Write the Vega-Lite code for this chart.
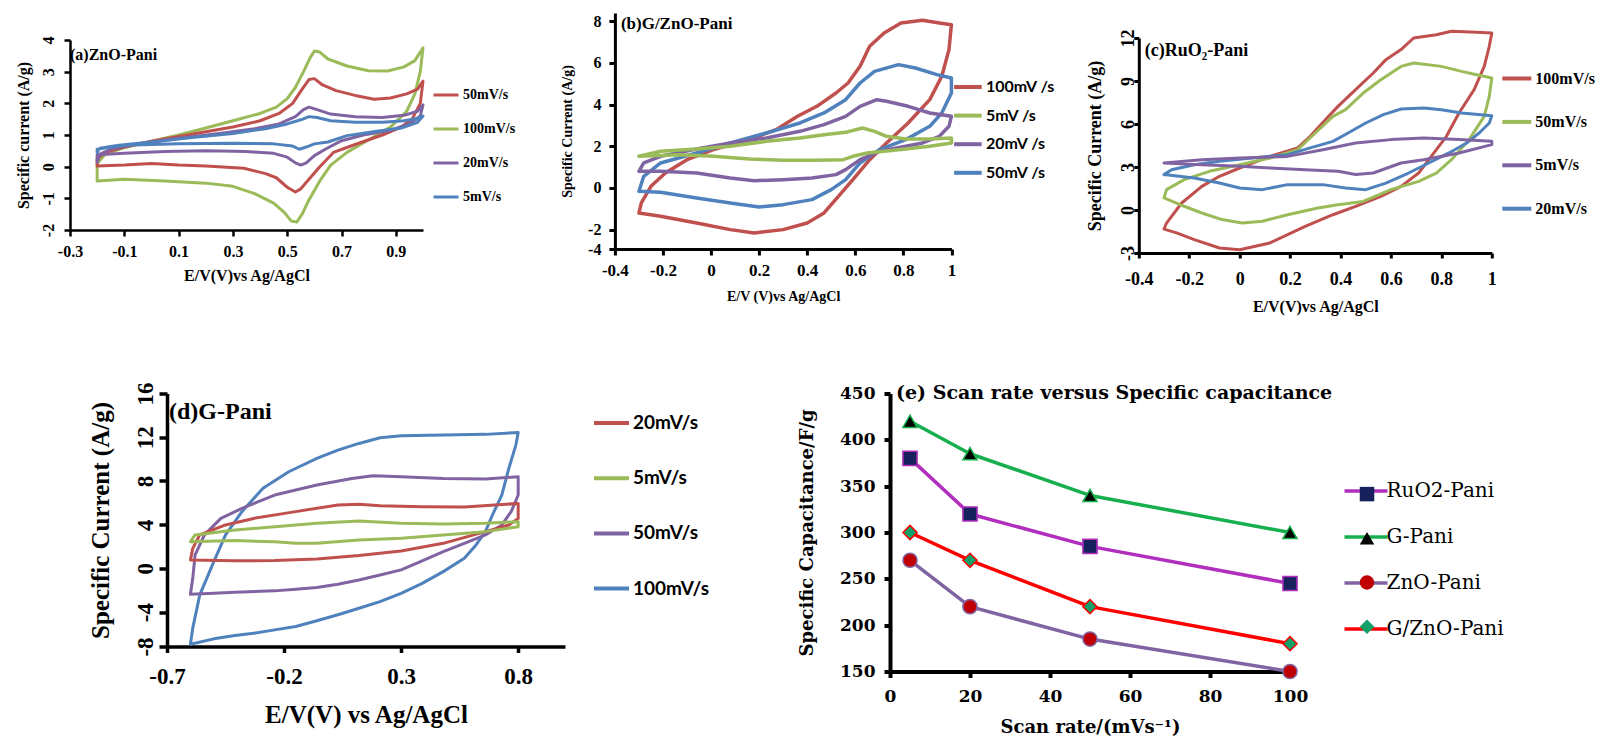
{
"$schema": "https://vega.github.io/schema/vega-lite/v6.json",
"background": "white",
"padding": {"left": 15, "top": 13, "right": 0, "bottom": 0},
"config": {
 "view": {"stroke": null},
 "axis": {"grid": false, "domainColor": "#000", "tickColor": "#000", "labelColor": "#000", "titleColor": "#000", "labelFontWeight": "bold", "titleFontWeight": "bold", "labelFont": "Liberation Serif", "titleFont": "Liberation Serif", "labelFlush": false, "labelOverlap": false},
 "legend": {"labelColor": "#000"},
 "line": {"strokeJoin": "round", "strokeCap": "round"}
},
"datasets": {
"a": [
{"s":"100mV/s","i":0,"x":-0.2,"y":-0.45},{"s":"100mV/s","i":1,"x":-0.2,"y":0.1},{"s":"100mV/s","i":2,"x":-0.17,"y":0.4},{"s":"100mV/s","i":3,"x":-0.1,"y":0.6},{"s":"100mV/s","i":4,"x":0,"y":0.8},{"s":"100mV/s","i":5,"x":0.1,"y":1},{"s":"100mV/s","i":6,"x":0.2,"y":1.22},{"s":"100mV/s","i":7,"x":0.3,"y":1.45},{"s":"100mV/s","i":8,"x":0.4,"y":1.68},{"s":"100mV/s","i":9,"x":0.46,"y":1.88},{"s":"100mV/s","i":10,"x":0.5,"y":2.15},{"s":"100mV/s","i":11,"x":0.53,"y":2.5},{"s":"100mV/s","i":12,"x":0.56,"y":3},{"s":"100mV/s","i":13,"x":0.585,"y":3.45},{"s":"100mV/s","i":14,"x":0.6,"y":3.65},{"s":"100mV/s","i":15,"x":0.62,"y":3.62},{"s":"100mV/s","i":16,"x":0.65,"y":3.4},{"s":"100mV/s","i":17,"x":0.72,"y":3.18},{"s":"100mV/s","i":18,"x":0.8,"y":3.03},{"s":"100mV/s","i":19,"x":0.87,"y":3.02},{"s":"100mV/s","i":20,"x":0.93,"y":3.15},{"s":"100mV/s","i":21,"x":0.97,"y":3.35},{"s":"100mV/s","i":22,"x":1,"y":3.75},{"s":"100mV/s","i":23,"x":0.99,"y":3},{"s":"100mV/s","i":24,"x":0.97,"y":2.3},{"s":"100mV/s","i":25,"x":0.94,"y":1.75},{"s":"100mV/s","i":26,"x":0.88,"y":1.25},{"s":"100mV/s","i":27,"x":0.8,"y":0.85},{"s":"100mV/s","i":28,"x":0.72,"y":0.45},{"s":"100mV/s","i":29,"x":0.66,"y":0.05},{"s":"100mV/s","i":30,"x":0.62,"y":-0.45},{"s":"100mV/s","i":31,"x":0.58,"y":-1.05},{"s":"100mV/s","i":32,"x":0.555,"y":-1.5},{"s":"100mV/s","i":33,"x":0.535,"y":-1.75},{"s":"100mV/s","i":34,"x":0.515,"y":-1.72},{"s":"100mV/s","i":35,"x":0.49,"y":-1.45},{"s":"100mV/s","i":36,"x":0.45,"y":-1.15},{"s":"100mV/s","i":37,"x":0.38,"y":-0.85},{"s":"100mV/s","i":38,"x":0.3,"y":-0.62},{"s":"100mV/s","i":39,"x":0.2,"y":-0.52},{"s":"100mV/s","i":40,"x":0.05,"y":-0.45},{"s":"100mV/s","i":41,"x":-0.1,"y":-0.4},{"s":"100mV/s","i":42,"x":-0.2,"y":-0.45},
{"s":"50mV/s","i":0,"x":-0.2,"y":0.02},{"s":"50mV/s","i":1,"x":-0.2,"y":0.25},{"s":"50mV/s","i":2,"x":-0.17,"y":0.45},{"s":"50mV/s","i":3,"x":-0.1,"y":0.62},{"s":"50mV/s","i":4,"x":0,"y":0.8},{"s":"50mV/s","i":5,"x":0.1,"y":0.95},{"s":"50mV/s","i":6,"x":0.2,"y":1.1},{"s":"50mV/s","i":7,"x":0.3,"y":1.25},{"s":"50mV/s","i":8,"x":0.4,"y":1.45},{"s":"50mV/s","i":9,"x":0.47,"y":1.68},{"s":"50mV/s","i":10,"x":0.52,"y":2},{"s":"50mV/s","i":11,"x":0.555,"y":2.45},{"s":"50mV/s","i":12,"x":0.58,"y":2.75},{"s":"50mV/s","i":13,"x":0.6,"y":2.78},{"s":"50mV/s","i":14,"x":0.63,"y":2.58},{"s":"50mV/s","i":15,"x":0.68,"y":2.4},{"s":"50mV/s","i":16,"x":0.75,"y":2.25},{"s":"50mV/s","i":17,"x":0.82,"y":2.13},{"s":"50mV/s","i":18,"x":0.88,"y":2.17},{"s":"50mV/s","i":19,"x":0.94,"y":2.3},{"s":"50mV/s","i":20,"x":0.98,"y":2.45},{"s":"50mV/s","i":21,"x":1,"y":2.7},{"s":"50mV/s","i":22,"x":0.99,"y":2},{"s":"50mV/s","i":23,"x":0.96,"y":1.5},{"s":"50mV/s","i":24,"x":0.92,"y":1.25},{"s":"50mV/s","i":25,"x":0.85,"y":1},{"s":"50mV/s","i":26,"x":0.75,"y":0.7},{"s":"50mV/s","i":27,"x":0.67,"y":0.45},{"s":"50mV/s","i":28,"x":0.62,"y":0},{"s":"50mV/s","i":29,"x":0.58,"y":-0.4},{"s":"50mV/s","i":30,"x":0.55,"y":-0.7},{"s":"50mV/s","i":31,"x":0.53,"y":-0.8},{"s":"50mV/s","i":32,"x":0.5,"y":-0.65},{"s":"50mV/s","i":33,"x":0.46,"y":-0.35},{"s":"50mV/s","i":34,"x":0.42,"y":-0.22},{"s":"50mV/s","i":35,"x":0.34,"y":-0.05},{"s":"50mV/s","i":36,"x":0.2,"y":0.02},{"s":"50mV/s","i":37,"x":0.1,"y":0.05},{"s":"50mV/s","i":38,"x":0,"y":0.1},{"s":"50mV/s","i":39,"x":-0.1,"y":0.05},{"s":"50mV/s","i":40,"x":-0.2,"y":0.02},
{"s":"20mV/s","i":0,"x":-0.2,"y":0.15},{"s":"20mV/s","i":1,"x":-0.19,"y":0.4},{"s":"20mV/s","i":2,"x":-0.15,"y":0.55},{"s":"20mV/s","i":3,"x":-0.05,"y":0.72},{"s":"20mV/s","i":4,"x":0.1,"y":0.9},{"s":"20mV/s","i":5,"x":0.25,"y":1.05},{"s":"20mV/s","i":6,"x":0.38,"y":1.2},{"s":"20mV/s","i":7,"x":0.47,"y":1.35},{"s":"20mV/s","i":8,"x":0.53,"y":1.58},{"s":"20mV/s","i":9,"x":0.56,"y":1.8},{"s":"20mV/s","i":10,"x":0.58,"y":1.88},{"s":"20mV/s","i":11,"x":0.61,"y":1.8},{"s":"20mV/s","i":12,"x":0.66,"y":1.66},{"s":"20mV/s","i":13,"x":0.75,"y":1.58},{"s":"20mV/s","i":14,"x":0.85,"y":1.55},{"s":"20mV/s","i":15,"x":0.93,"y":1.62},{"s":"20mV/s","i":16,"x":0.98,"y":1.75},{"s":"20mV/s","i":17,"x":1,"y":1.95},{"s":"20mV/s","i":18,"x":0.99,"y":1.6},{"s":"20mV/s","i":19,"x":0.95,"y":1.35},{"s":"20mV/s","i":20,"x":0.88,"y":1.15},{"s":"20mV/s","i":21,"x":0.78,"y":1},{"s":"20mV/s","i":22,"x":0.7,"y":0.82},{"s":"20mV/s","i":23,"x":0.64,"y":0.55},{"s":"20mV/s","i":24,"x":0.6,"y":0.35},{"s":"20mV/s","i":25,"x":0.57,"y":0.12},{"s":"20mV/s","i":26,"x":0.55,"y":0.05},{"s":"20mV/s","i":27,"x":0.53,"y":0.12},{"s":"20mV/s","i":28,"x":0.5,"y":0.3},{"s":"20mV/s","i":29,"x":0.45,"y":0.42},{"s":"20mV/s","i":30,"x":0.35,"y":0.48},{"s":"20mV/s","i":31,"x":0.2,"y":0.5},{"s":"20mV/s","i":32,"x":0.05,"y":0.48},{"s":"20mV/s","i":33,"x":-0.1,"y":0.42},{"s":"20mV/s","i":34,"x":-0.2,"y":0.38},{"s":"20mV/s","i":35,"x":-0.2,"y":0.15},
{"s":"5mV/s","i":0,"x":-0.2,"y":0.45},{"s":"5mV/s","i":1,"x":-0.19,"y":0.58},{"s":"5mV/s","i":2,"x":-0.12,"y":0.68},{"s":"5mV/s","i":3,"x":0,"y":0.78},{"s":"5mV/s","i":4,"x":0.15,"y":0.92},{"s":"5mV/s","i":5,"x":0.3,"y":1.05},{"s":"5mV/s","i":6,"x":0.42,"y":1.2},{"s":"5mV/s","i":7,"x":0.5,"y":1.35},{"s":"5mV/s","i":8,"x":0.55,"y":1.48},{"s":"5mV/s","i":9,"x":0.58,"y":1.58},{"s":"5mV/s","i":10,"x":0.61,"y":1.55},{"s":"5mV/s","i":11,"x":0.66,"y":1.45},{"s":"5mV/s","i":12,"x":0.75,"y":1.4},{"s":"5mV/s","i":13,"x":0.85,"y":1.4},{"s":"5mV/s","i":14,"x":0.93,"y":1.45},{"s":"5mV/s","i":15,"x":0.98,"y":1.52},{"s":"5mV/s","i":16,"x":1,"y":1.6},{"s":"5mV/s","i":17,"x":0.98,"y":1.4},{"s":"5mV/s","i":18,"x":0.92,"y":1.22},{"s":"5mV/s","i":19,"x":0.83,"y":1.12},{"s":"5mV/s","i":20,"x":0.72,"y":0.98},{"s":"5mV/s","i":21,"x":0.65,"y":0.78},{"s":"5mV/s","i":22,"x":0.6,"y":0.72},{"s":"5mV/s","i":23,"x":0.57,"y":0.62},{"s":"5mV/s","i":24,"x":0.545,"y":0.55},{"s":"5mV/s","i":25,"x":0.52,"y":0.65},{"s":"5mV/s","i":26,"x":0.45,"y":0.72},{"s":"5mV/s","i":27,"x":0.3,"y":0.74},{"s":"5mV/s","i":28,"x":0.1,"y":0.72},{"s":"5mV/s","i":29,"x":-0.1,"y":0.68},{"s":"5mV/s","i":30,"x":-0.2,"y":0.55},{"s":"5mV/s","i":31,"x":-0.2,"y":0.45}
],
"b": [
{"s":"100mV /s","i":0,"x":-0.3,"y":-1.2},{"s":"100mV /s","i":1,"x":-0.29,"y":-0.72},{"s":"100mV /s","i":2,"x":-0.25,"y":0.08},{"s":"100mV /s","i":3,"x":-0.19,"y":0.72},{"s":"100mV /s","i":4,"x":-0.1,"y":1.36},{"s":"100mV /s","i":5,"x":0.01,"y":1.84},{"s":"100mV /s","i":6,"x":0.16,"y":2.32},{"s":"100mV /s","i":7,"x":0.27,"y":2.8},{"s":"100mV /s","i":8,"x":0.36,"y":3.44},{"s":"100mV /s","i":9,"x":0.44,"y":3.92},{"s":"100mV /s","i":10,"x":0.52,"y":4.56},{"s":"100mV /s","i":11,"x":0.57,"y":5.04},{"s":"100mV /s","i":12,"x":0.62,"y":5.84},{"s":"100mV /s","i":13,"x":0.66,"y":6.8},{"s":"100mV /s","i":14,"x":0.72,"y":7.44},{"s":"100mV /s","i":15,"x":0.79,"y":7.92},{"s":"100mV /s","i":16,"x":0.88,"y":8.05},{"s":"100mV /s","i":17,"x":0.95,"y":7.92},{"s":"100mV /s","i":18,"x":1,"y":7.84},{"s":"100mV /s","i":19,"x":0.99,"y":6.64},{"s":"100mV /s","i":20,"x":0.96,"y":5.36},{"s":"100mV /s","i":21,"x":0.91,"y":4.24},{"s":"100mV /s","i":22,"x":0.82,"y":3.12},{"s":"100mV /s","i":23,"x":0.73,"y":2.16},{"s":"100mV /s","i":24,"x":0.66,"y":1.36},{"s":"100mV /s","i":25,"x":0.59,"y":0.4},{"s":"100mV /s","i":26,"x":0.53,"y":-0.4},{"s":"100mV /s","i":27,"x":0.47,"y":-1.2},{"s":"100mV /s","i":28,"x":0.4,"y":-1.68},{"s":"100mV /s","i":29,"x":0.3,"y":-2},{"s":"100mV /s","i":30,"x":0.18,"y":-2.16},{"s":"100mV /s","i":31,"x":0.08,"y":-2},{"s":"100mV /s","i":32,"x":-0.06,"y":-1.68},{"s":"100mV /s","i":33,"x":-0.21,"y":-1.36},{"s":"100mV /s","i":34,"x":-0.3,"y":-1.2},
{"s":"50mV /s","i":0,"x":-0.3,"y":-0.16},{"s":"50mV /s","i":1,"x":-0.28,"y":0.56},{"s":"50mV /s","i":2,"x":-0.21,"y":1.2},{"s":"50mV /s","i":3,"x":-0.06,"y":1.68},{"s":"50mV /s","i":4,"x":0.08,"y":2.16},{"s":"50mV /s","i":5,"x":0.23,"y":2.64},{"s":"50mV /s","i":6,"x":0.37,"y":3.12},{"s":"50mV /s","i":7,"x":0.47,"y":3.6},{"s":"50mV /s","i":8,"x":0.56,"y":4.24},{"s":"50mV /s","i":9,"x":0.62,"y":5.04},{"s":"50mV /s","i":10,"x":0.68,"y":5.6},{"s":"50mV /s","i":11,"x":0.78,"y":5.92},{"s":"50mV /s","i":12,"x":0.85,"y":5.76},{"s":"50mV /s","i":13,"x":0.94,"y":5.44},{"s":"50mV /s","i":14,"x":1,"y":5.28},{"s":"50mV /s","i":15,"x":1,"y":4.56},{"s":"50mV /s","i":16,"x":0.96,"y":3.6},{"s":"50mV /s","i":17,"x":0.91,"y":2.96},{"s":"50mV /s","i":18,"x":0.81,"y":2.32},{"s":"50mV /s","i":19,"x":0.7,"y":1.84},{"s":"50mV /s","i":20,"x":0.62,"y":1.2},{"s":"50mV /s","i":21,"x":0.56,"y":0.4},{"s":"50mV /s","i":22,"x":0.5,"y":-0.08},{"s":"50mV /s","i":23,"x":0.42,"y":-0.56},{"s":"50mV /s","i":24,"x":0.3,"y":-0.8},{"s":"50mV /s","i":25,"x":0.2,"y":-0.91},{"s":"50mV /s","i":26,"x":0.08,"y":-0.72},{"s":"50mV /s","i":27,"x":-0.06,"y":-0.48},{"s":"50mV /s","i":28,"x":-0.21,"y":-0.21},{"s":"50mV /s","i":29,"x":-0.3,"y":-0.16},
{"s":"20mV /s","i":0,"x":-0.3,"y":0.8},{"s":"20mV /s","i":1,"x":-0.28,"y":1.2},{"s":"20mV /s","i":2,"x":-0.21,"y":1.52},{"s":"20mV /s","i":3,"x":-0.06,"y":1.87},{"s":"20mV /s","i":4,"x":0.08,"y":2.16},{"s":"20mV /s","i":5,"x":0.23,"y":2.4},{"s":"20mV /s","i":6,"x":0.37,"y":2.72},{"s":"20mV /s","i":7,"x":0.47,"y":3.04},{"s":"20mV /s","i":8,"x":0.56,"y":3.44},{"s":"20mV /s","i":9,"x":0.62,"y":3.92},{"s":"20mV /s","i":10,"x":0.69,"y":4.24},{"s":"20mV /s","i":11,"x":0.73,"y":4.16},{"s":"20mV /s","i":12,"x":0.82,"y":3.92},{"s":"20mV /s","i":13,"x":0.91,"y":3.6},{"s":"20mV /s","i":14,"x":1,"y":3.44},{"s":"20mV /s","i":15,"x":0.99,"y":2.96},{"s":"20mV /s","i":16,"x":0.95,"y":2.48},{"s":"20mV /s","i":17,"x":0.88,"y":2.16},{"s":"20mV /s","i":18,"x":0.81,"y":2},{"s":"20mV /s","i":19,"x":0.7,"y":1.76},{"s":"20mV /s","i":20,"x":0.62,"y":1.36},{"s":"20mV /s","i":21,"x":0.56,"y":0.88},{"s":"20mV /s","i":22,"x":0.52,"y":0.64},{"s":"20mV /s","i":23,"x":0.42,"y":0.48},{"s":"20mV /s","i":24,"x":0.3,"y":0.4},{"s":"20mV /s","i":25,"x":0.18,"y":0.35},{"s":"20mV /s","i":26,"x":0.08,"y":0.48},{"s":"20mV /s","i":27,"x":-0.06,"y":0.72},{"s":"20mV /s","i":28,"x":-0.21,"y":0.8},{"s":"20mV /s","i":29,"x":-0.3,"y":0.8},
{"s":"5mV /s","i":0,"x":-0.3,"y":1.52},{"s":"5mV /s","i":1,"x":-0.21,"y":1.76},{"s":"5mV /s","i":2,"x":-0.06,"y":1.87},{"s":"5mV /s","i":3,"x":0.08,"y":2},{"s":"5mV /s","i":4,"x":0.23,"y":2.24},{"s":"5mV /s","i":5,"x":0.37,"y":2.4},{"s":"5mV /s","i":6,"x":0.47,"y":2.56},{"s":"5mV /s","i":7,"x":0.56,"y":2.67},{"s":"5mV /s","i":8,"x":0.63,"y":2.88},{"s":"5mV /s","i":9,"x":0.68,"y":2.72},{"s":"5mV /s","i":10,"x":0.73,"y":2.48},{"s":"5mV /s","i":11,"x":0.81,"y":2.35},{"s":"5mV /s","i":12,"x":0.91,"y":2.35},{"s":"5mV /s","i":13,"x":1,"y":2.4},{"s":"5mV /s","i":14,"x":1,"y":2.16},{"s":"5mV /s","i":15,"x":0.91,"y":2},{"s":"5mV /s","i":16,"x":0.81,"y":1.87},{"s":"5mV /s","i":17,"x":0.72,"y":1.76},{"s":"5mV /s","i":18,"x":0.65,"y":1.68},{"s":"5mV /s","i":19,"x":0.59,"y":1.52},{"s":"5mV /s","i":20,"x":0.55,"y":1.36},{"s":"5mV /s","i":21,"x":0.44,"y":1.33},{"s":"5mV /s","i":22,"x":0.3,"y":1.33},{"s":"5mV /s","i":23,"x":0.16,"y":1.39},{"s":"5mV /s","i":24,"x":0.01,"y":1.52},{"s":"5mV /s","i":25,"x":-0.13,"y":1.6},{"s":"5mV /s","i":26,"x":-0.3,"y":1.52}
],
"c": [
{"s":"100mV/s","i":0,"x":-0.3,"y":-1.33},{"s":"100mV/s","i":1,"x":-0.29,"y":-0.91},{"s":"100mV/s","i":2,"x":-0.23,"y":0.49},{"s":"100mV/s","i":3,"x":-0.15,"y":1.65},{"s":"100mV/s","i":4,"x":-0.08,"y":2.35},{"s":"100mV/s","i":5,"x":0,"y":2.93},{"s":"100mV/s","i":6,"x":0.12,"y":3.74},{"s":"100mV/s","i":7,"x":0.23,"y":4.33},{"s":"100mV/s","i":8,"x":0.28,"y":5.14},{"s":"100mV/s","i":9,"x":0.34,"y":6.3},{"s":"100mV/s","i":10,"x":0.39,"y":7.23},{"s":"100mV/s","i":11,"x":0.46,"y":8.4},{"s":"100mV/s","i":12,"x":0.53,"y":9.56},{"s":"100mV/s","i":13,"x":0.58,"y":10.49},{"s":"100mV/s","i":14,"x":0.64,"y":11.19},{"s":"100mV/s","i":15,"x":0.69,"y":12},{"s":"100mV/s","i":16,"x":0.78,"y":12.23},{"s":"100mV/s","i":17,"x":0.84,"y":12.47},{"s":"100mV/s","i":18,"x":0.94,"y":12.4},{"s":"100mV/s","i":19,"x":1,"y":12.35},{"s":"100mV/s","i":20,"x":0.99,"y":11.42},{"s":"100mV/s","i":21,"x":0.97,"y":10.02},{"s":"100mV/s","i":22,"x":0.93,"y":8.4},{"s":"100mV/s","i":23,"x":0.87,"y":6.77},{"s":"100mV/s","i":24,"x":0.82,"y":5.14},{"s":"100mV/s","i":25,"x":0.76,"y":3.74},{"s":"100mV/s","i":26,"x":0.71,"y":2.58},{"s":"100mV/s","i":27,"x":0.64,"y":1.65},{"s":"100mV/s","i":28,"x":0.56,"y":0.95},{"s":"100mV/s","i":29,"x":0.46,"y":0.26},{"s":"100mV/s","i":30,"x":0.37,"y":-0.33},{"s":"100mV/s","i":31,"x":0.26,"y":-1.14},{"s":"100mV/s","i":32,"x":0.12,"y":-2.3},{"s":"100mV/s","i":33,"x":0,"y":-2.77},{"s":"100mV/s","i":34,"x":-0.08,"y":-2.65},{"s":"100mV/s","i":35,"x":-0.18,"y":-2.07},{"s":"100mV/s","i":36,"x":-0.25,"y":-1.6},{"s":"100mV/s","i":37,"x":-0.3,"y":-1.33},
{"s":"50mV/s","i":0,"x":-0.3,"y":0.84},{"s":"50mV/s","i":1,"x":-0.29,"y":1.42},{"s":"50mV/s","i":2,"x":-0.22,"y":2.12},{"s":"50mV/s","i":3,"x":-0.12,"y":2.7},{"s":"50mV/s","i":4,"x":0,"y":3.16},{"s":"50mV/s","i":5,"x":0.12,"y":3.63},{"s":"50mV/s","i":6,"x":0.23,"y":4.21},{"s":"50mV/s","i":7,"x":0.3,"y":5.37},{"s":"50mV/s","i":8,"x":0.37,"y":6.53},{"s":"50mV/s","i":9,"x":0.42,"y":7},{"s":"50mV/s","i":10,"x":0.49,"y":8.16},{"s":"50mV/s","i":11,"x":0.56,"y":9.09},{"s":"50mV/s","i":12,"x":0.64,"y":10.02},{"s":"50mV/s","i":13,"x":0.69,"y":10.26},{"s":"50mV/s","i":14,"x":0.8,"y":10.02},{"s":"50mV/s","i":15,"x":0.88,"y":9.67},{"s":"50mV/s","i":16,"x":0.94,"y":9.44},{"s":"50mV/s","i":17,"x":1,"y":9.21},{"s":"50mV/s","i":18,"x":0.99,"y":7.93},{"s":"50mV/s","i":19,"x":0.97,"y":6.53},{"s":"50mV/s","i":20,"x":0.91,"y":4.91},{"s":"50mV/s","i":21,"x":0.84,"y":3.51},{"s":"50mV/s","i":22,"x":0.78,"y":2.58},{"s":"50mV/s","i":23,"x":0.71,"y":2},{"s":"50mV/s","i":24,"x":0.6,"y":1.42},{"s":"50mV/s","i":25,"x":0.49,"y":0.6},{"s":"50mV/s","i":26,"x":0.39,"y":0.37},{"s":"50mV/s","i":27,"x":0.31,"y":0.14},{"s":"50mV/s","i":28,"x":0.19,"y":-0.33},{"s":"50mV/s","i":29,"x":0.09,"y":-0.79},{"s":"50mV/s","i":30,"x":0.01,"y":-0.91},{"s":"50mV/s","i":31,"x":-0.07,"y":-0.67},{"s":"50mV/s","i":32,"x":-0.15,"y":-0.21},{"s":"50mV/s","i":33,"x":-0.22,"y":0.26},{"s":"50mV/s","i":34,"x":-0.3,"y":0.84},
{"s":"20mV/s","i":0,"x":-0.3,"y":2.47},{"s":"20mV/s","i":1,"x":-0.27,"y":2.81},{"s":"20mV/s","i":2,"x":-0.18,"y":3.16},{"s":"20mV/s","i":3,"x":-0.08,"y":3.4},{"s":"20mV/s","i":4,"x":0.05,"y":3.63},{"s":"20mV/s","i":5,"x":0.19,"y":3.86},{"s":"20mV/s","i":6,"x":0.28,"y":4.33},{"s":"20mV/s","i":7,"x":0.37,"y":4.79},{"s":"20mV/s","i":8,"x":0.43,"y":5.37},{"s":"20mV/s","i":9,"x":0.5,"y":6.07},{"s":"20mV/s","i":10,"x":0.57,"y":6.65},{"s":"20mV/s","i":11,"x":0.64,"y":7.05},{"s":"20mV/s","i":12,"x":0.73,"y":7.12},{"s":"20mV/s","i":13,"x":0.8,"y":7},{"s":"20mV/s","i":14,"x":0.88,"y":6.77},{"s":"20mV/s","i":15,"x":1,"y":6.58},{"s":"20mV/s","i":16,"x":0.99,"y":6.07},{"s":"20mV/s","i":17,"x":0.95,"y":5.37},{"s":"20mV/s","i":18,"x":0.9,"y":4.67},{"s":"20mV/s","i":19,"x":0.83,"y":3.98},{"s":"20mV/s","i":20,"x":0.75,"y":3.28},{"s":"20mV/s","i":21,"x":0.67,"y":2.58},{"s":"20mV/s","i":22,"x":0.58,"y":1.88},{"s":"20mV/s","i":23,"x":0.5,"y":1.42},{"s":"20mV/s","i":24,"x":0.42,"y":1.53},{"s":"20mV/s","i":25,"x":0.33,"y":1.77},{"s":"20mV/s","i":26,"x":0.19,"y":1.77},{"s":"20mV/s","i":27,"x":0.09,"y":1.42},{"s":"20mV/s","i":28,"x":0,"y":1.53},{"s":"20mV/s","i":29,"x":-0.08,"y":1.88},{"s":"20mV/s","i":30,"x":-0.18,"y":2.23},{"s":"20mV/s","i":31,"x":-0.3,"y":2.47},
{"s":"5mV/s","i":0,"x":-0.3,"y":3.28},{"s":"5mV/s","i":1,"x":-0.15,"y":3.51},{"s":"5mV/s","i":2,"x":0,"y":3.63},{"s":"5mV/s","i":3,"x":0.19,"y":3.74},{"s":"5mV/s","i":4,"x":0.33,"y":4.21},{"s":"5mV/s","i":5,"x":0.46,"y":4.67},{"s":"5mV/s","i":6,"x":0.6,"y":4.91},{"s":"5mV/s","i":7,"x":0.73,"y":5.02},{"s":"5mV/s","i":8,"x":0.87,"y":4.91},{"s":"5mV/s","i":9,"x":1,"y":4.79},{"s":"5mV/s","i":10,"x":1,"y":4.56},{"s":"5mV/s","i":11,"x":0.87,"y":3.98},{"s":"5mV/s","i":12,"x":0.73,"y":3.51},{"s":"5mV/s","i":13,"x":0.64,"y":3.28},{"s":"5mV/s","i":14,"x":0.53,"y":2.58},{"s":"5mV/s","i":15,"x":0.46,"y":2.47},{"s":"5mV/s","i":16,"x":0.39,"y":2.7},{"s":"5mV/s","i":17,"x":0.26,"y":2.81},{"s":"5mV/s","i":18,"x":0.12,"y":2.93},{"s":"5mV/s","i":19,"x":0,"y":3.05},{"s":"5mV/s","i":20,"x":-0.15,"y":3.16},{"s":"5mV/s","i":21,"x":-0.3,"y":3.28}
],
"d": [
{"s":"100mV/s","i":0,"x":-0.6,"y":-6.94},{"s":"100mV/s","i":1,"x":-0.59,"y":-5.47},{"s":"100mV/s","i":2,"x":-0.56,"y":-2.43},{"s":"100mV/s","i":3,"x":-0.5,"y":0.62},{"s":"100mV/s","i":4,"x":-0.45,"y":3.06},{"s":"100mV/s","i":5,"x":-0.38,"y":5.19},{"s":"100mV/s","i":6,"x":-0.29,"y":7.32},{"s":"100mV/s","i":7,"x":-0.18,"y":8.84},{"s":"100mV/s","i":8,"x":-0.06,"y":10.06},{"s":"100mV/s","i":9,"x":0.03,"y":10.82},{"s":"100mV/s","i":10,"x":0.12,"y":11.43},{"s":"100mV/s","i":11,"x":0.21,"y":11.95},{"s":"100mV/s","i":12,"x":0.3,"y":12.13},{"s":"100mV/s","i":13,"x":0.48,"y":12.2},{"s":"100mV/s","i":14,"x":0.66,"y":12.26},{"s":"100mV/s","i":15,"x":0.8,"y":12.43},{"s":"100mV/s","i":16,"x":0.79,"y":11.28},{"s":"100mV/s","i":17,"x":0.76,"y":9.14},{"s":"100mV/s","i":18,"x":0.73,"y":6.71},{"s":"100mV/s","i":19,"x":0.69,"y":4.88},{"s":"100mV/s","i":20,"x":0.66,"y":3.36},{"s":"100mV/s","i":21,"x":0.62,"y":2.14},{"s":"100mV/s","i":22,"x":0.57,"y":0.92},{"s":"100mV/s","i":23,"x":0.48,"y":-0.3},{"s":"100mV/s","i":24,"x":0.39,"y":-1.37},{"s":"100mV/s","i":25,"x":0.3,"y":-2.28},{"s":"100mV/s","i":26,"x":0.21,"y":-3.04},{"s":"100mV/s","i":27,"x":0.12,"y":-3.65},{"s":"100mV/s","i":28,"x":0.03,"y":-4.25},{"s":"100mV/s","i":29,"x":-0.06,"y":-4.8},{"s":"100mV/s","i":30,"x":-0.15,"y":-5.32},{"s":"100mV/s","i":31,"x":-0.24,"y":-5.63},{"s":"100mV/s","i":32,"x":-0.33,"y":-5.94},{"s":"100mV/s","i":33,"x":-0.41,"y":-6.15},{"s":"100mV/s","i":34,"x":-0.5,"y":-6.45},{"s":"100mV/s","i":35,"x":-0.6,"y":-6.94},
{"s":"50mV/s","i":0,"x":-0.6,"y":-2.37},{"s":"50mV/s","i":1,"x":-0.59,"y":-0.91},{"s":"50mV/s","i":2,"x":-0.58,"y":1.23},{"s":"50mV/s","i":3,"x":-0.54,"y":3.06},{"s":"50mV/s","i":4,"x":-0.47,"y":4.57},{"s":"50mV/s","i":5,"x":-0.38,"y":5.49},{"s":"50mV/s","i":6,"x":-0.24,"y":6.71},{"s":"50mV/s","i":7,"x":-0.06,"y":7.63},{"s":"50mV/s","i":8,"x":0.09,"y":8.23},{"s":"50mV/s","i":9,"x":0.18,"y":8.48},{"s":"50mV/s","i":10,"x":0.3,"y":8.38},{"s":"50mV/s","i":11,"x":0.48,"y":8.23},{"s":"50mV/s","i":12,"x":0.66,"y":8.18},{"s":"50mV/s","i":13,"x":0.8,"y":8.38},{"s":"50mV/s","i":14,"x":0.8,"y":6.71},{"s":"50mV/s","i":15,"x":0.77,"y":5.19},{"s":"50mV/s","i":16,"x":0.73,"y":3.97},{"s":"50mV/s","i":17,"x":0.66,"y":3.06},{"s":"50mV/s","i":18,"x":0.57,"y":2.29},{"s":"50mV/s","i":19,"x":0.48,"y":1.54},{"s":"50mV/s","i":20,"x":0.39,"y":0.68},{"s":"50mV/s","i":21,"x":0.3,"y":-0.14},{"s":"50mV/s","i":22,"x":0.21,"y":-0.6},{"s":"50mV/s","i":23,"x":0.12,"y":-1.06},{"s":"50mV/s","i":24,"x":0.03,"y":-1.45},{"s":"50mV/s","i":25,"x":-0.06,"y":-1.76},{"s":"50mV/s","i":26,"x":-0.15,"y":-1.92},{"s":"50mV/s","i":27,"x":-0.24,"y":-2.06},{"s":"50mV/s","i":28,"x":-0.41,"y":-2.19},{"s":"50mV/s","i":29,"x":-0.5,"y":-2.28},{"s":"50mV/s","i":30,"x":-0.6,"y":-2.37},
{"s":"20mV/s","i":0,"x":-0.6,"y":0.77},{"s":"20mV/s","i":1,"x":-0.59,"y":1.83},{"s":"20mV/s","i":2,"x":-0.56,"y":3.06},{"s":"20mV/s","i":3,"x":-0.45,"y":3.97},{"s":"20mV/s","i":4,"x":-0.33,"y":4.57},{"s":"20mV/s","i":5,"x":-0.15,"y":5.19},{"s":"20mV/s","i":6,"x":0.03,"y":5.8},{"s":"20mV/s","i":7,"x":0.12,"y":5.87},{"s":"20mV/s","i":8,"x":0.21,"y":5.74},{"s":"20mV/s","i":9,"x":0.39,"y":5.64},{"s":"20mV/s","i":10,"x":0.57,"y":5.61},{"s":"20mV/s","i":11,"x":0.8,"y":5.94},{"s":"20mV/s","i":12,"x":0.8,"y":4.57},{"s":"20mV/s","i":13,"x":0.76,"y":3.97},{"s":"20mV/s","i":14,"x":0.66,"y":3.36},{"s":"20mV/s","i":15,"x":0.48,"y":2.29},{"s":"20mV/s","i":16,"x":0.3,"y":1.59},{"s":"20mV/s","i":17,"x":0.12,"y":1.17},{"s":"20mV/s","i":18,"x":-0.06,"y":0.86},{"s":"20mV/s","i":19,"x":-0.24,"y":0.72},{"s":"20mV/s","i":20,"x":-0.41,"y":0.69},{"s":"20mV/s","i":21,"x":-0.6,"y":0.77},
{"s":"5mV/s","i":0,"x":-0.6,"y":2.44},{"s":"5mV/s","i":1,"x":-0.58,"y":3.06},{"s":"5mV/s","i":2,"x":-0.41,"y":3.51},{"s":"5mV/s","i":3,"x":-0.24,"y":3.81},{"s":"5mV/s","i":4,"x":-0.06,"y":4.12},{"s":"5mV/s","i":5,"x":0.12,"y":4.34},{"s":"5mV/s","i":6,"x":0.3,"y":4.12},{"s":"5mV/s","i":7,"x":0.48,"y":4.06},{"s":"5mV/s","i":8,"x":0.66,"y":4.12},{"s":"5mV/s","i":9,"x":0.8,"y":4.27},{"s":"5mV/s","i":10,"x":0.8,"y":3.81},{"s":"5mV/s","i":11,"x":0.66,"y":3.36},{"s":"5mV/s","i":12,"x":0.48,"y":3.06},{"s":"5mV/s","i":13,"x":0.3,"y":2.75},{"s":"5mV/s","i":14,"x":0.12,"y":2.6},{"s":"5mV/s","i":15,"x":-0.06,"y":2.29},{"s":"5mV/s","i":16,"x":-0.15,"y":2.29},{"s":"5mV/s","i":17,"x":-0.24,"y":2.44},{"s":"5mV/s","i":18,"x":-0.41,"y":2.54},{"s":"5mV/s","i":19,"x":-0.6,"y":2.44}
],
"e": [
{"m":"RuO2-Pani","k":"RuO2-Pani","rate":5,"cap":380},{"m":"RuO2-Pani","k":"RuO2-Pani","rate":20,"cap":320},{"m":"RuO2-Pani","k":"RuO2-Pani","rate":50,"cap":285},{"m":"RuO2-Pani","k":"RuO2-Pani","rate":100,"cap":245},
{"m":"G-Pani","k":"G-Pani","rate":5,"cap":420},{"m":"G-Pani","k":"G-Pani","rate":20,"cap":385},{"m":"G-Pani","k":"G-Pani","rate":50,"cap":340},{"m":"G-Pani","k":"G-Pani","rate":100,"cap":300},
{"m":"ZnO-Pani","k":"ZnO-Pani","rate":5,"cap":270},{"m":"ZnO-Pani","k":"ZnO-Pani","rate":20,"cap":220},{"m":"ZnO-Pani","k":"ZnO-Pani","rate":50,"cap":185},{"m":"ZnO-Pani","k":"ZnO-Pani","rate":100,"cap":150},
{"m":"G/ZnO-Pani","k":"G/ZnO-Pani","rate":5,"cap":300},{"m":"G/ZnO-Pani","k":"G/ZnO-Pani","rate":20,"cap":270},{"m":"G/ZnO-Pani","k":"G/ZnO-Pani","rate":50,"cap":220},{"m":"G/ZnO-Pani","k":"G/ZnO-Pani","rate":100,"cap":180}
]
},
"spacing": 66.5,
"bounds": "full",
"resolve": {"scale": {"x": "independent", "y": "independent", "color": "independent", "stroke": "independent", "fill": "independent", "shape": "independent"}, "legend": {"color": "independent", "stroke": "independent", "fill": "independent", "shape": "independent"}, "axis": {"x": "independent", "y": "independent"}},
"vconcat": [
{
 "spacing": 28.9,
 "bounds": "full",
 "resolve": {"scale": {"x": "independent", "y": "independent", "color": "independent", "stroke": "independent", "fill": "independent", "shape": "independent"}, "legend": {"color": "independent", "stroke": "independent", "fill": "independent", "shape": "independent"}, "axis": {"x": "independent", "y": "independent"}},
 "hconcat": [
  {
   "spacing": 0,
   "bounds": "flush",
   "resolve": {"scale": {"x": "independent", "y": "independent", "color": "independent"}, "legend": {"color": "independent"}, "axis": {"x": "independent", "y": "independent"}},
   "vconcat": [
    {"width": 1, "height": 27, "data": {"values": []}, "mark": "point"},
    {
     "width": 353, "height": 190,
     "data": {"name": "a"},
     "title": {"text": "(a)ZnO-Pani", "anchor": "start", "frame": "group", "offset": -35, "baseline": "middle", "dx": 0, "font": "Liberation Serif", "fontSize": 16, "fontWeight": "bold", "color": "#000"},
     "mark": {"type": "line", "strokeWidth": 3},
     "encoding": {
      "x": {"field": "x", "type": "quantitative", "scale": {"domain": [-0.3, 1.0], "nice": false, "zero": false},
       "axis": {"values": [-0.3, -0.1, 0.1, 0.3, 0.5, 0.7, 0.9], "labelExpr": "'' + datum.value", "title": "E/V(V)vs Ag/AgCl", "labelFontSize": 16, "titleFontSize": 16, "domainWidth": 2.5, "tickWidth": 2.5, "tickSize": 6, "labelPadding": 7, "titlePadding": 8}},
      "y": {"field": "y", "type": "quantitative", "scale": {"domain": [-2, 4], "nice": false, "zero": false},
       "axis": {"values": [-2, -1, 0, 1, 2, 3, 4], "labelExpr": "'' + datum.value", "title": "Specific current (A/g)", "labelAngle": -90, "labelAlign": "center", "labelBaseline": "bottom", "labelFontSize": 16, "titleFontSize": 16, "domainWidth": 2.5, "tickWidth": 2.5, "tickSize": 6, "labelPadding": 7.5, "titlePadding": 9}},
      "color": {"field": "s", "type": "nominal", "scale": {"domain": ["50mV/s", "100mV/s", "20mV/s", "5mV/s"], "range": ["#C0504D", "#9BBB59", "#8064A2", "#4F81BD"]},
       "legend": {"orient": "none", "legendX": 346.9, "legendY": 25.9, "padding": 15.1, "direction": "vertical", "title": null, "symbolType": "stroke", "symbolSize": 625, "symbolStrokeWidth": 3, "labelFont": "Liberation Serif", "labelFontWeight": "bold", "labelFontSize": 14, "labelOffset": 3, "rowPadding": 13}},
      "order": {"field": "i", "type": "quantitative"}
     }
    }
   ]
  },
  {
   "width": 336.5, "height": 236,
   "data": {"name": "b"},
   "title": {"text": "(b)G/ZnO-Pani", "anchor": "start", "frame": "group", "offset": -28, "baseline": "middle", "dx": 6, "font": "Liberation Serif", "fontSize": 17, "fontWeight": "bold", "color": "#000"},
   "mark": {"type": "line", "strokeWidth": 3.5},
   "encoding": {
    "x": {"field": "x", "type": "quantitative", "scale": {"domain": [-0.4, 1.0], "nice": false, "zero": false},
     "axis": {"values": [-0.4, -0.2, 0, 0.2, 0.4, 0.6, 0.8, 1], "labelExpr": "'' + datum.value", "title": "E/V (V)vs Ag/AgCl", "labelFontSize": 17, "titleFontSize": 14, "domainWidth": 3, "tickWidth": 3, "tickSize": 6, "labelPadding": 7, "titlePadding": 11}},
    "y": {"field": "y", "type": "quantitative", "scale": {"domain": [-2.93, 8.4], "nice": false, "zero": false},
     "axis": {"values": [-2.93, -2, 0, 2, 4, 6, 8], "labelExpr": "datum.value < -2.5 ? '-4' : '' + datum.value", "title": "Specific Current (A/g)", "labelFontSize": 16, "titleFontSize": 14, "domainWidth": 3, "tickWidth": 3, "tickSize": 6, "labelPadding": 8, "titlePadding": 13}},
    "color": {"field": "s", "type": "nominal", "scale": {"domain": ["100mV /s", "5mV /s", "20mV /s", "50mV /s"], "range": ["#C0504D", "#9BBB59", "#8064A2", "#4F81BD"]},
     "legend": {"orient": "none", "legendX": 334, "legendY": 55, "padding": 3, "direction": "vertical", "title": null, "symbolType": "stroke", "symbolSize": 760, "symbolStrokeWidth": 4, "labelFont": "Lato", "labelFontWeight": "bold", "labelFontSize": 16, "labelOffset": 2, "rowPadding": 4.6}},
    "order": {"field": "i", "type": "quantitative"}
   }
  },
  {
   "spacing": 0,
   "bounds": "flush",
   "resolve": {"scale": {"x": "independent", "y": "independent", "color": "independent"}, "legend": {"color": "independent"}, "axis": {"x": "independent", "y": "independent"}},
   "vconcat": [
    {"width": 1, "height": 25, "data": {"values": []}, "mark": "point"},
    {
     "width": 353, "height": 215,
     "data": {"name": "c"},
     "title": {"text": "(c)RuO₂-Pani", "anchor": "start", "frame": "group", "offset": -40, "baseline": "middle", "dx": 6, "font": "Liberation Serif", "fontSize": 18, "fontWeight": "bold", "color": "#000"},
     "mark": {"type": "line", "strokeWidth": 3},
     "encoding": {
      "x": {"field": "x", "type": "quantitative", "scale": {"domain": [-0.4, 1.0], "nice": false, "zero": false},
       "axis": {"values": [-0.4, -0.2, 0, 0.2, 0.4, 0.6, 0.8, 1], "labelExpr": "'' + datum.value", "title": "E/V(V)vs Ag/AgCl", "labelFontSize": 18, "titleFontSize": 16, "domainWidth": 3, "tickWidth": 3, "tickSize": 5, "labelPadding": 12.5, "titlePadding": 10}},
      "y": {"field": "y", "type": "quantitative", "scale": {"domain": [-3, 12], "nice": false, "zero": false},
       "axis": {"values": [-3, 0, 3, 6, 9, 12], "labelExpr": "'' + datum.value", "title": "Specific Current (A/g)", "labelAngle": -90, "labelAlign": "center", "labelBaseline": "bottom", "labelFontSize": 18, "titleFontSize": 18, "domainWidth": 3, "tickWidth": 3, "tickSize": 5, "labelPadding": -4, "titlePadding": 15}},
      "color": {"field": "s", "type": "nominal", "scale": {"domain": ["100mV/s", "50mV/s", "5mV/s", "20mV/s"], "range": ["#C0504D", "#9BBB59", "#8064A2", "#4F81BD"]},
       "legend": {"orient": "none", "legendX": 361.5, "legendY": 24, "direction": "vertical", "title": null, "symbolType": "stroke", "symbolSize": 841, "symbolStrokeWidth": 4, "labelFont": "Liberation Serif", "labelFontWeight": "bold", "labelFontSize": 16, "labelOffset": 2, "rowPadding": 18.4}},
      "order": {"field": "i", "type": "quantitative"}
     }
    }
   ]
  }
 ]
},
{
 "spacing": 0,
 "bounds": "flush",
 "resolve": {"scale": {"x": "independent", "y": "independent", "color": "independent", "stroke": "independent", "fill": "independent", "shape": "independent"}, "legend": {"color": "independent", "stroke": "independent", "fill": "independent", "shape": "independent"}, "axis": {"x": "independent", "y": "independent"}},
 "hconcat": [
  {"width": 96.5, "height": 1, "data": {"values": []}, "mark": "point"},
  {
   "width": 398, "height": 253,
   "data": {"name": "d"},
   "title": {"text": "(d)G-Pani", "anchor": "start", "frame": "group", "offset": -54, "baseline": "middle", "dx": 2, "font": "Liberation Serif", "fontSize": 24, "fontWeight": "bold", "color": "#000"},
   "mark": {"type": "line", "strokeWidth": 3},
   "encoding": {
    "x": {"field": "x", "type": "quantitative", "scale": {"domain": [-0.7, 1.0], "nice": false, "zero": false},
     "axis": {"values": [-0.7, -0.2, 0.3, 0.8], "labelExpr": "'' + datum.value", "title": "E/V(V) vs Ag/AgCl", "labelFontSize": 23, "titleFontSize": 25, "domainWidth": 3.5, "tickWidth": 3.5, "tickSize": 6, "labelPadding": 13, "titlePadding": 14}},
    "y": {"field": "y", "type": "quantitative", "scale": {"domain": [-7.15, 16], "nice": false, "zero": false},
     "axis": {"values": [-7.15, -4, 0, 4, 8, 12, 16], "labelExpr": "datum.value < -7 ? '-8' : '' + datum.value", "title": "Specific Current (A/g)", "labelAngle": -90, "labelAlign": "center", "labelBaseline": "bottom", "labelFontSize": 23, "titleFontSize": 25, "domainWidth": 3.5, "tickWidth": 3.5, "tickSize": 8, "labelPadding": 2, "titlePadding": 21}},
    "color": {"field": "s", "type": "nominal", "scale": {"domain": ["20mV/s", "5mV/s", "50mV/s", "100mV/s"], "range": ["#C0504D", "#9BBB59", "#8064A2", "#4F81BD"]},
     "legend": {"orient": "none", "legendX": 425, "legendY": 10, "direction": "vertical", "title": null, "symbolType": "stroke", "symbolSize": 1225, "symbolStrokeWidth": 4, "labelFont": "Lato", "labelFontWeight": "bold", "labelFontSize": 19, "labelOffset": 2, "rowPadding": 25.2}},
    "order": {"field": "i", "type": "quantitative"}
   }
  },
  {"width": 325, "height": 1, "data": {"values": []}, "mark": "point"},
  {
   "width": 400, "height": 278,
   "data": {"name": "e"},
   "title": {"text": "(e) Scan rate versus Specific capacitance", "anchor": "start", "frame": "group", "offset": -27, "baseline": "middle", "dx": 6, "font": "DejaVu Serif", "fontSize": 19, "fontWeight": "bold", "color": "#000"},
   "encoding": {
    "x": {"field": "rate", "type": "quantitative", "scale": {"domain": [0, 100], "nice": false, "zero": false},
     "axis": {"values": [0, 20, 40, 60, 80, 100], "title": "Scan rate/(mVs⁻¹)", "labelFont": "DejaVu Serif", "titleFont": "DejaVu Serif", "labelFontSize": 17, "titleFontSize": 18, "domainWidth": 4, "tickWidth": 4, "tickSize": 6, "labelPadding": 11, "titlePadding": 14}},
    "y": {"field": "cap", "type": "quantitative", "scale": {"domain": [150, 450], "nice": false, "zero": false},
     "axis": {"values": [150, 200, 250, 300, 350, 400, 450], "title": "Specific Capacitance/F/g", "labelFont": "DejaVu Serif", "titleFont": "DejaVu Serif", "labelFontSize": 17, "titleFontSize": 18, "domainWidth": 4, "tickWidth": 4, "tickSize": 6, "labelPadding": 9, "titlePadding": 23}}
   },
   "layer": [
    {"mark": {"type": "line", "strokeWidth": 3.5},
     "encoding": {
      "stroke": {"field": "m", "type": "nominal", "sort": ["RuO2-Pani", "G-Pani", "ZnO-Pani", "G/ZnO-Pani"], "scale": {"range": ["#B12EBE", "#17AF4E", "#8064A2", "#FF0000"]},
       "legend": {"orient": "none", "legendX": 452.5, "legendY": 74, "direction": "vertical", "title": null, "symbolType": "stroke", "symbolSize": 1849, "symbolStrokeWidth": 3.5, "labelFont": "DejaVu Serif", "labelFontSize": 20, "labelOffset": -3, "rowPadding": 12}},
      "order": {"field": "rate", "type": "quantitative"}
     }},
    {"mark": {"type": "point", "filled": true, "size": 200, "strokeWidth": 1.5, "opacity": 1},
     "encoding": {
      "stroke": {"field": "m", "type": "nominal", "sort": ["RuO2-Pani", "G-Pani", "ZnO-Pani", "G/ZnO-Pani"]},
      "shape": {"field": "k", "type": "nominal", "scale": {"domain": ["RuO2-Pani", "G-Pani", "ZnO-Pani", "G/ZnO-Pani"], "range": ["square", "triangle-up", "circle", "diamond"]},
       "legend": {"orient": "none", "legendX": 467, "legendY": 90.6, "direction": "vertical", "title": null, "symbolSize": 210, "symbolStrokeWidth": 0, "labelFont": "DejaVu Serif", "labelFontSize": 20, "labelExpr": "' '", "rowPadding": 24.2}},
      "fill": {"field": "k", "type": "nominal", "scale": {"domain": ["RuO2-Pani", "G-Pani", "ZnO-Pani", "G/ZnO-Pani"], "range": ["#17215C", "#000000", "#C00000", "#13A068"]}}
     }}
   ]
  }
 ]
}
]
}
